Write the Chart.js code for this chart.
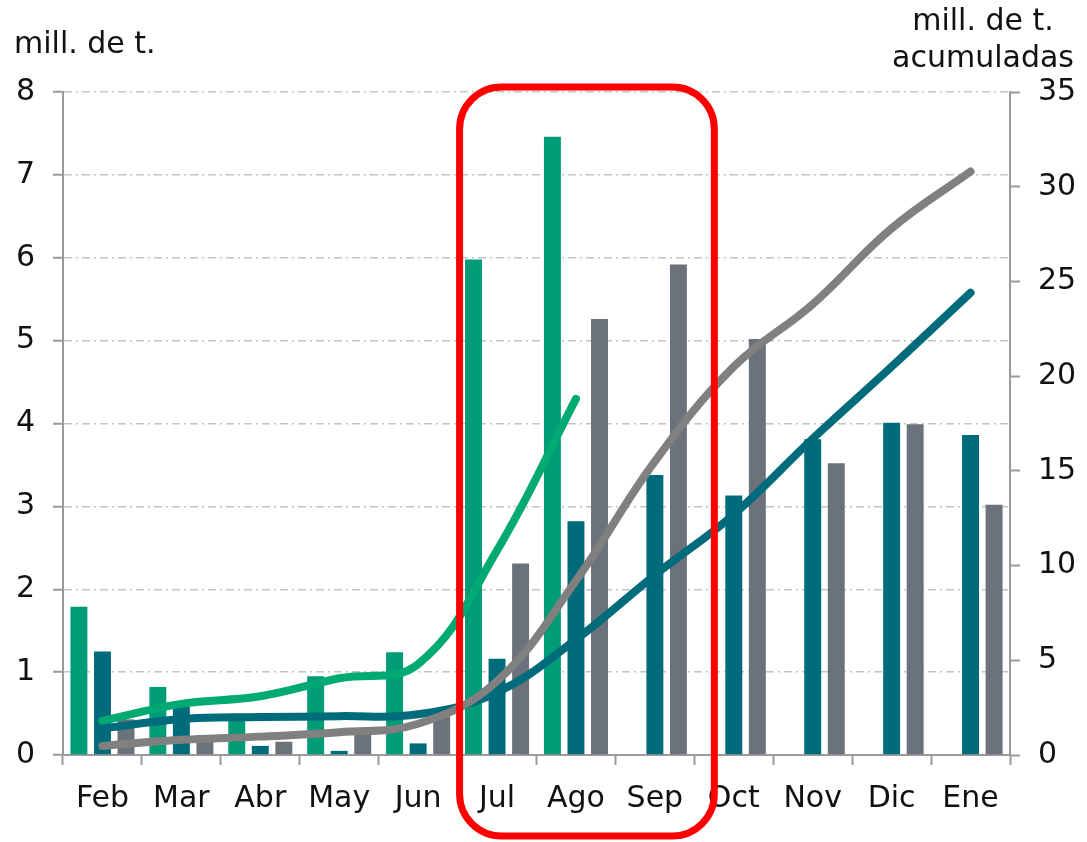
<!DOCTYPE html>
<html>
<head>
<meta charset="utf-8">
<script src="https://cdn.jsdelivr.net/npm/chart.js@4"></script>
<style>
  body { margin: 0; background: #fff; }
  canvas { display: block; }
</style>
</head>
<body>
<canvas id="chart" width="1087" height="842"></canvas>
<script>
// months and monthly values (mill. de t.)
const months = ['Feb', 'Mar', 'Abr', 'May', 'Jun', 'Jul', 'Ago', 'Sep', 'Oct', 'Nov', 'Dic', 'Ene'];
const greenBars = [1.79, 0.82, 0.43, 0.95, 1.24, 5.98, 7.46, null, null, null, null, null];
const tealBars = [1.25, 0.58, 0.11, 0.05, 0.14, 1.16, 2.82, 3.38, 3.13, 3.81, 4.01, 3.86];
const grayBars = [0.43, 0.24, 0.16, 0.28, 0.52, 2.31, 5.26, 5.92, 5.02, 3.52, 3.99, 3.02];

// accumulated values (right axis)
const greenCum = [1.8, 2.7, 3.1, 4.05, 4.8, 10.8, 18.8, null, null, null, null, null];
const tealCum = [1.4, 1.9, 2.0, 2.05, 2.15, 3.3, 6.1, 9.5, 12.7, 16.7, 20.5, 24.4];
const grayCum = [0.48, 0.8, 0.97, 1.2, 1.65, 3.9, 9.2, 15.5, 20.5, 23.8, 27.8, 30.8];

const leftTicks = [0, 1, 2, 3, 4, 5, 6, 7, 8];
const rightTicks = [0, 5, 10, 15, 20, 25, 30, 35];

const FONT = { family: 'DejaVu Sans', size: 30 };
const AXIS = '#9a9a9a';

// axis titles + red highlight box around Jul-Sep
const extras = {
  id: 'extras',
  afterDraw(chart) {
    const ctx = chart.ctx;
    const x = chart.scales.x;
    const y = chart.scales.y;
    ctx.save();
    ctx.fillStyle = '#111';
    ctx.font = '30px "DejaVu Sans"';
    ctx.textBaseline = 'alphabetic';
    ctx.textAlign = 'left';
    ctx.fillText('mill. de t.', 14, 53);
    ctx.textAlign = 'center';
    ctx.fillText('mill. de t.', 983, 30);
    ctx.fillText('acumuladas', 983, 67);

    const cat = (x.getPixelForValue(1) - x.getPixelForValue(0));
    const left = x.getPixelForValue(5) - cat / 2 + 2;
    const right = x.getPixelForValue(7) + cat / 2 + 20;
    const top = y.getPixelForValue(8) - 5;
    const bottom = chart.height - 6;
    ctx.strokeStyle = '#ff0000';
    ctx.lineWidth = 7;
    ctx.beginPath();
    ctx.roundRect(left, top, right - left, bottom - top, 42);
    ctx.stroke();
    ctx.restore();
  }
};

const barDs = (data, color) => ({
  type: 'bar', data, backgroundColor: color, yAxisID: 'y', order: 10,
  categoryPercentage: 0.895, barPercentage: 0.72
});
const lineDs = (data, color, order) => ({
  type: 'line', data, borderColor: color, borderWidth: 8, borderCapStyle: 'round',
  pointRadius: 0, tension: 0.4, yAxisID: 'y2', order, spanGaps: false
});

new Chart(document.getElementById('chart'), {
  data: {
    labels: months,
    datasets: [
      barDs(greenBars, '#009b77'),
      barDs(tealBars, '#006b7a'),
      barDs(grayBars, '#6b727b'),
      lineDs(greenCum, '#00aa72', 3),
      lineDs(tealCum, '#006b7a', 2),
      lineDs(grayCum, '#808080', 1)
    ]
  },
  options: {
    responsive: false,
    animation: false,
    layout: { padding: { top: 92, left: 0, right: 0, bottom: 0 } },
    plugins: { legend: { display: false }, tooltip: { enabled: false } },
    scales: {
      x: {
        offset: true,
        grid: { drawOnChartArea: false, drawTicks: true, tickLength: 10, offset: true, tickColor: AXIS, tickWidth: 2 },
        border: { color: AXIS, width: 2 },
        ticks: { font: FONT, color: '#111', padding: 16, maxRotation: 0 },
        afterFit: s => { s.height = 87; }
      },
      y: {
        position: 'left', min: 0, max: 8,
        afterBuildTicks: s => { s.ticks = leftTicks.map(v => ({ value: v })); },
        grid: { color: '#c4c4c4', lineWidth: 1.5, tickLength: 10, tickColor: AXIS, tickWidth: 2 },
        border: { color: AXIS, width: 2, dash: [8, 4, 2, 4] },
        ticks: { font: FONT, color: '#111', padding: 18 },
        afterFit: s => { s.width = 63; }
      },
      y2: {
        position: 'right', min: 0, max: 35,
        afterBuildTicks: s => { s.ticks = rightTicks.map(v => ({ value: v })); },
        grid: { drawOnChartArea: false, tickLength: 10, tickColor: AXIS, tickWidth: 2 },
        border: { color: AXIS, width: 2 },
        ticks: { font: FONT, color: '#111', padding: 18 },
        afterFit: s => { s.width = 77; }
      }
    }
  },
  plugins: [extras]
});
</script>
</body>
</html>
